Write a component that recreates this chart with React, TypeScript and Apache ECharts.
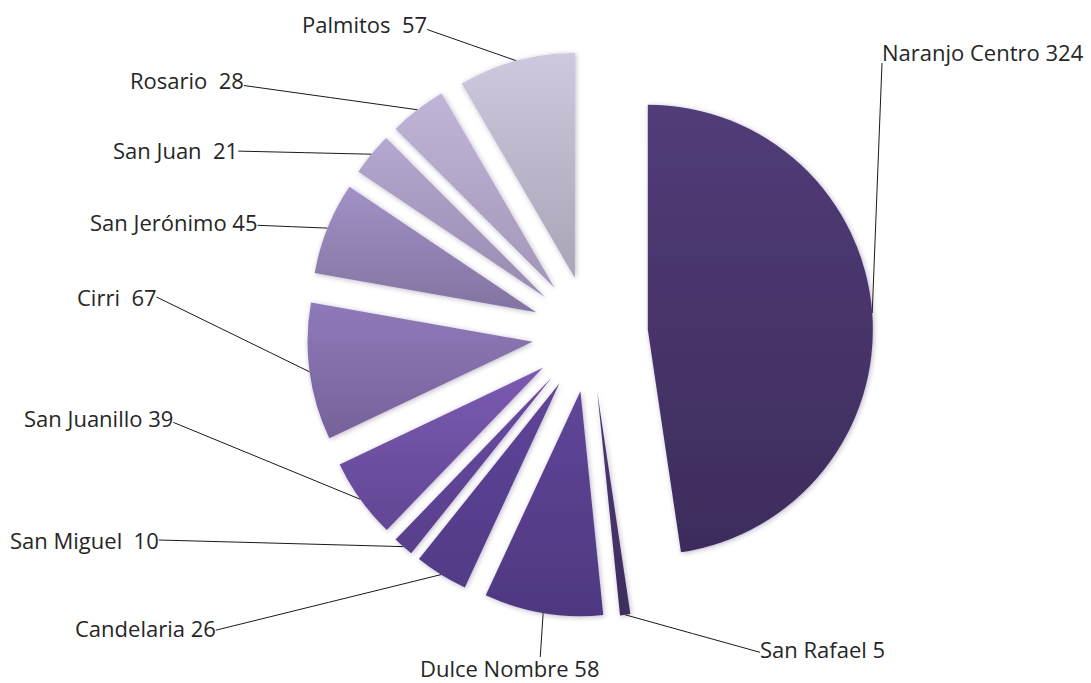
import React, { useEffect, useRef } from "react";
import * as echarts from "echarts";

const categories = [
  "Naranjo Centro",
  "San Rafael",
  "Dulce Nombre",
  "Candelaria",
  "San Miguel",
  "San Juanillo",
  "Cirri",
  "San Jerónimo",
  "San Juan",
  "Rosario",
  "Palmitos",
];
const values = [324, 5, 58, 26, 10, 39, 67, 45, 21, 28, 57];
const separators = [" ", " ", " ", " ", "  ", " ", "  ", " ", "  ", "  ", "  "];

const topColors = [
  "#513c78", "#4c3773", "#604699", "#5f459a", "#684ba2", "#7b5ab2",
  "#8f7ab9", "#a191c5", "#b4a8d0", "#c0b5d8", "#cfc8de",
];
const bottomColors = [
  "#3d2c5c", "#3e2d5e", "#4e3880", "#513b86", "#583f8c", "#614794",
  "#766299", "#8273a2", "#978bb0", "#a297b8", "#aaa4b7",
];

// label placement: left edge x, middle y
const labelPos = [
  [882, 52],
  [760, 649],
  [420, 668],
  [75, 628],
  [10, 540],
  [24, 418],
  [77, 297],
  [90, 222],
  [113, 150],
  [130, 80],
  [302, 24],
];
// where the leader line meets the label, as fractions of the label box
const lineEndFrac = [
  [0, 1],
  [0, 0.65],
  [0.67, 0],
  [1, 0.6],
  [1, 0.5],
  [1, 0.7],
  [1, 0.5],
  [1, 0.65],
  [1, 0.55],
  [1, 0.75],
  [1, 0.75],
];

const CX = 590;
const CY = 334;
const RADIUS = 225;
const EXPLODE = 58;

export default function App() {
  const ref = useRef<HTMLDivElement>(null);
  useEffect(() => {
    if (!ref.current) return;
    const chart = echarts.init(ref.current, undefined, { renderer: "svg" });
    const total = values.reduce((a, b) => a + b, 0);
    let cum = 0;
    const series = categories.map((name, i) => {
      const mid = ((cum + values[i] / 2) / total) * Math.PI * 2;
      cum += values[i];
      const center = [CX + EXPLODE * Math.sin(mid), CY - EXPLODE * Math.cos(mid)];
      const data = categories.map((n, j) => {
        if (j !== i) {
          return {
            name: n,
            value: values[j],
            itemStyle: { color: "rgba(0,0,0,0)", borderWidth: 0, shadowBlur: 0 },
            label: { show: false },
            labelLine: { show: false },
          };
        }
        return {
          name: n,
          value: values[j],
          itemStyle: {
            color: new echarts.graphic.LinearGradient(0, 0, 0, 1, [
              { offset: 0, color: topColors[j] },
              { offset: 1, color: bottomColors[j] },
            ]),
            borderWidth: 0,
            shadowBlur: 5,
            shadowColor: "rgba(60,40,90,0.35)",
            shadowOffsetX: 1,
            shadowOffsetY: 1,
          },
        };
      });
      return {
        type: "pie",
        name,
        center,
        radius: RADIUS,
        startAngle: 90,
        clockwise: true,
        avoidLabelOverlap: false,
        silent: true,
        emphasis: { disabled: true },
        data,
        label: {
          show: true,
          position: "outside",
          formatter: (p: any) => p.name + separators[p.dataIndex] + p.value,
          fontFamily: "Open Sans",
          fontSize: 22,
          color: "#262626",
        },
        labelLine: {
          show: true,
          length: 10,
          length2: 10,
          lineStyle: { color: "#1a1a1a", width: 1 },
        },
        labelLayout: (p: any) => {
          const idx = p.dataIndex;
          const pos = labelPos[idx];
          const w = p.labelRect.width;
          const h = p.labelRect.height;
          const left = pos[0];
          const top = pos[1] - h / 2;
          const fr = lineEndFrac[idx];
          const end = [left + fr[0] * w, top + fr[1] * h];
          const pts = p.labelLinePoints;
          let out: any = { x: pos[0], y: pos[1], align: "left", verticalAlign: "middle" };
          if (pts && pts.length) {
            const s = pts[0];
            out.labelLinePoints = [
              s,
              [(s[0] + end[0]) / 2, (s[1] + end[1]) / 2],
              end,
            ];
          }
          return out;
        },
      };
    });
    chart.setOption({
      animation: false,
      backgroundColor: "#ffffff",
      series,
    });
    return () => chart.dispose();
  }, []);
  return (
    <div
      ref={ref}
      style={{ position: "fixed", left: 0, top: 0, width: 1091, height: 683, background: "#fff" }}
    />
  );
}
